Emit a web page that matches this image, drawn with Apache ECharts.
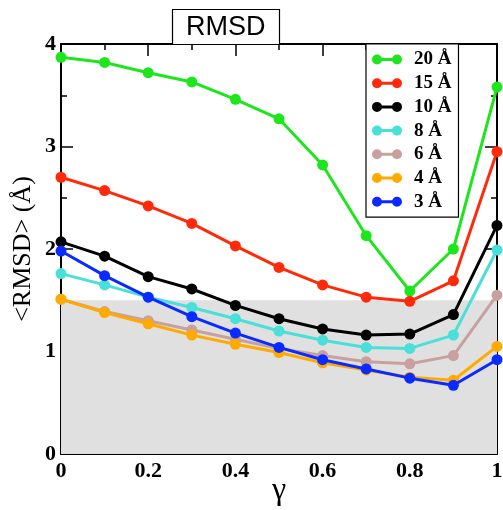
<!DOCTYPE html>
<html><head><meta charset="utf-8">
<script src="https://cdn.jsdelivr.net/npm/echarts@6/dist/echarts.min.js"></script>
<style>html,body{margin:0;padding:0;background:#fff}#c{width:503px;height:510px}</style>
</head><body><div id="c"></div>
<script>
const gamma = [0, 0.1, 0.2, 0.3, 0.4, 0.5, 0.6, 0.7, 0.8, 0.9, 1.0];
const names = ['20 Å', '15 Å', '10 Å', '8 Å', '6 Å', '4 Å', '3 Å'];
const colors = ['#1de61d', '#ff2a0a', '#000000', '#48e0d8', '#c8a09e', '#ffaa00', '#0a2aff'];
const r20 = [3.87, 3.82, 3.72, 3.63, 3.46, 3.27, 2.82, 2.13, 1.59, 2.00, 3.58];
const r15 = [2.70, 2.57, 2.42, 2.25, 2.03, 1.82, 1.65, 1.53, 1.49, 1.69, 2.95];
const r10 = [2.07, 1.93, 1.73, 1.61, 1.45, 1.32, 1.22, 1.16, 1.17, 1.36, 2.23];
const r8  = [1.76, 1.65, 1.53, 1.43, 1.32, 1.20, 1.11, 1.04, 1.03, 1.16, 1.99];
const r6  = [1.51, 1.39, 1.30, 1.21, 1.12, 1.03, 0.96, 0.90, 0.88, 0.96, 1.55];
const r4  = [1.51, 1.38, 1.27, 1.16, 1.07, 0.99, 0.89, 0.82, 0.75, 0.72, 1.05];
const r3  = [1.98, 1.74, 1.53, 1.34, 1.18, 1.04, 0.92, 0.83, 0.74, 0.67, 0.92];
const yTicks = [0, 1, 2, 3, 4];
const xTickLabels = ['0', '0.2', '0.4', '0.6', '0.8', '1'];
const bandRange = [0, 1.5];

const allData = [r20, r15, r10, r8, r6, r4, r3];
const chart = echarts.init(document.getElementById('c'));
const serifBold = {fontFamily: 'Liberation Serif', fontWeight: 'bold', fontSize: 22, color: '#000'};
const axisLine = {show: true, onZero: false, lineStyle: {color: '#000', width: 2}};
const icon = 'path://M0,5a5,5 0 1,0 10,0a5,5 0 1,0 -10,0M5,3.5V6.5H25V3.5ZM20,5a5,5 0 1,0 10,0a5,5 0 1,0 -10,0';

const series = [{
  type: 'line', name: 'band', data: [], z: 0, silent: true,
  markArea: {silent: true, itemStyle: {color: '#e0e0e0'},
    data: [[{xAxis: 0, yAxis: bandRange[0]}, {xAxis: 1, yAxis: bandRange[1]}]]}
}];
allData.forEach((d, i) => {
  series.push({
    type: 'line', name: names[i], z: 2 + i,
    data: d.map((v, j) => [gamma[j], v]),
    symbol: 'circle', symbolSize: 11,
    lineStyle: {color: colors[i], width: 3},
    itemStyle: {color: colors[i]},
    animation: false
  });
});

chart.setOption({
  animation: false,
  grid: {left: 61, right: 6, top: 44, bottom: 56, outerBoundsMode: 'none', containLabel: false},
  title: {
    text: 'RMSD', left: 172, top: 9,
    padding: [5, 14, 4, 14],
    borderColor: '#000', borderWidth: 1.2, backgroundColor: '#fff',
    textStyle: {fontFamily: 'Liberation Sans', fontWeight: 'normal', fontSize: 27, color: '#000'}
  },
  legend: {
    data: names, orient: 'vertical', left: 366, top: 44,
    padding: [6, 7, 6, 6], itemGap: 4.7,
    borderColor: '#000', borderWidth: 1.2, backgroundColor: '#fff',
    icon: icon, itemWidth: 30, itemHeight: 10,
    textStyle: {fontFamily: 'Liberation Serif', fontWeight: 'bold', fontSize: 19, color: '#000', padding: [0, 0, 0, 7]}
  },
  xAxis: [{
    type: 'value', min: 0, max: 1, interval: 0.2,
    name: 'γ', nameLocation: 'middle', nameGap: 21, nameMoveOverlap: false,
    nameTextStyle: {fontFamily: 'Liberation Serif', fontSize: 32, color: '#000'},
    axisLine: axisLine,
    axisTick: {inside: true, length: 12, lineStyle: {color: '#000', width: 1.5}},
    minorTick: {show: true, splitNumber: 2, length: 6, lineStyle: {color: '#000', width: 1.5}},
    splitLine: {show: false},
    axisLabel: Object.assign({margin: 6, formatter: v => xTickLabels[Math.round(v / 0.2)]}, serifBold)
  }, {
    type: 'value', position: 'top', min: 0, max: 1, interval: 0.2,
    axisLine: axisLine,
    axisTick: {inside: true, length: 12, lineStyle: {color: '#000', width: 1.5}},
    minorTick: {show: true, splitNumber: 2, length: 6, lineStyle: {color: '#000', width: 1.5}},
    splitLine: {show: false}, axisLabel: {show: false}
  }],
  yAxis: [{
    type: 'value', min: 0, max: 4, interval: 1,
    name: '<RMSD> (Å)', nameLocation: 'middle', nameGap: 25, nameRotate: 90, nameMoveOverlap: false,
    nameTextStyle: {fontFamily: 'Liberation Serif', fontSize: 26, color: '#000'},
    axisLine: axisLine,
    axisTick: {inside: true, length: 12, lineStyle: {color: '#000', width: 1.5}},
    minorTick: {show: true, splitNumber: 2, length: 6, lineStyle: {color: '#000', width: 1.5}},
    splitLine: {show: false},
    axisLabel: Object.assign({margin: 5, formatter: v => yTicks.includes(v) ? String(v) : ''}, serifBold)
  }, {
    type: 'value', position: 'right', min: 0, max: 4, interval: 1,
    axisLine: axisLine,
    axisTick: {inside: true, length: 12, lineStyle: {color: '#000', width: 1.5}},
    minorTick: {show: true, splitNumber: 2, length: 6, lineStyle: {color: '#000', width: 1.5}},
    splitLine: {show: false}, axisLabel: {show: false}
  }],
  series: series
});
</script></body></html>
